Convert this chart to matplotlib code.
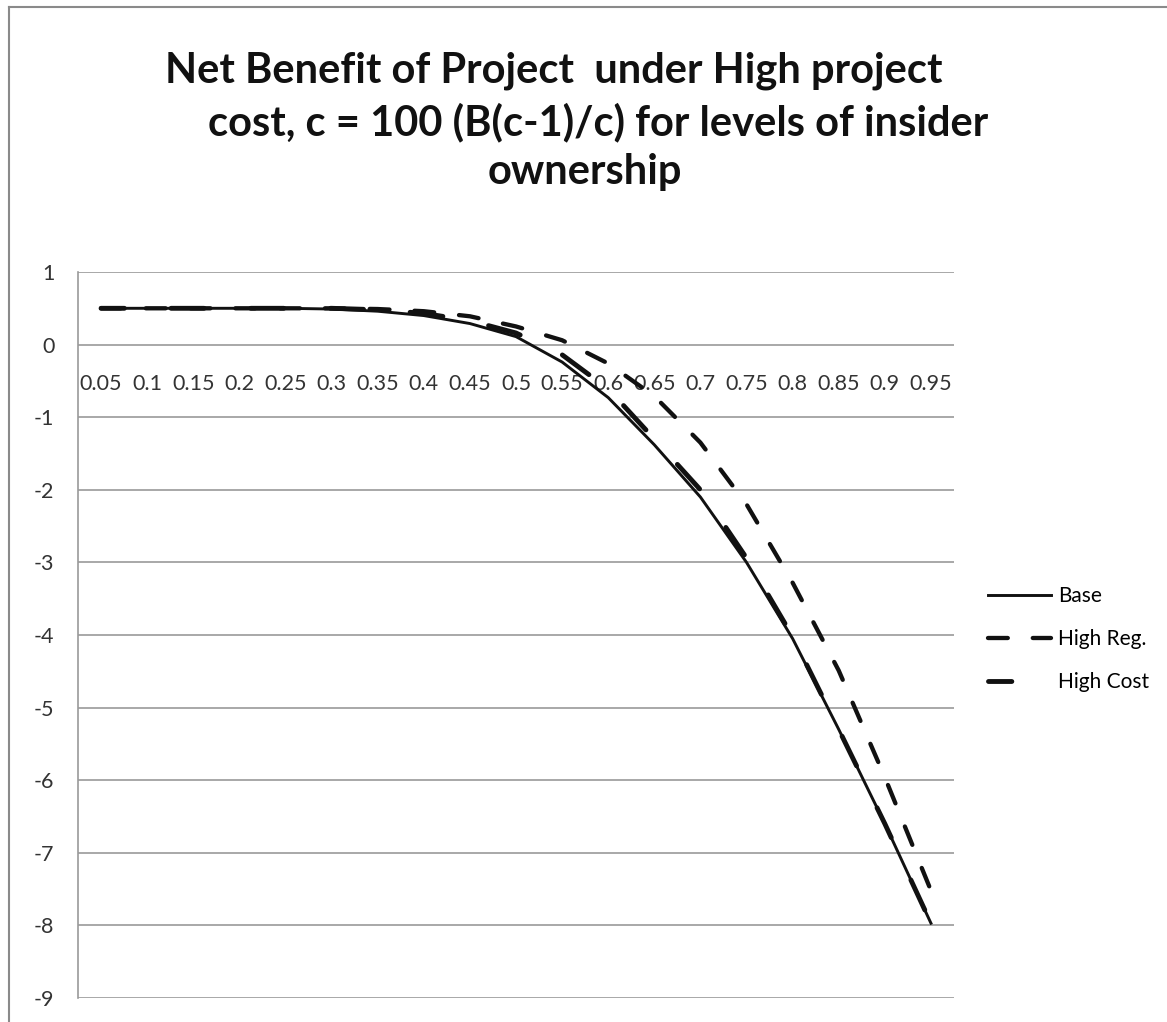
import matplotlib
matplotlib.use("Agg")
import matplotlib.pyplot as plt
from matplotlib.lines import Line2D

# Insider ownership levels (category axis)
ownership = ["0.05", "0.1", "0.15", "0.2", "0.25", "0.3", "0.35", "0.4", "0.45", "0.5",
             "0.55", "0.6", "0.65", "0.7", "0.75", "0.8", "0.85", "0.9", "0.95"]

# Net benefit for each scenario
base = [0.50, 0.50, 0.50, 0.50, 0.50, 0.49, 0.46, 0.40, 0.29, 0.11,
        -0.24, -0.73, -1.38, -2.10, -3.00, -4.05, -5.30, -6.60, -7.97]
high_reg = [0.50, 0.50, 0.50, 0.50, 0.50, 0.50, 0.49, 0.46, 0.39, 0.25,
            0.06, -0.26, -0.71, -1.35, -2.20, -3.28, -4.49, -5.96, -7.52]
high_cost = [0.50, 0.50, 0.50, 0.50, 0.50, 0.50, 0.48, 0.43, 0.33, 0.16,
             -0.14, -0.61, -1.30, -2.00, -2.94, -4.02, -5.30, -6.60, -7.97]

series_names = ["Base", "High Reg.", "High Cost"]
y_ticks = list(range(-9, 2))

plt.rcParams["font.family"] = ["Lato", "DejaVu Sans"]

W, H = 1167, 1022
fig = plt.figure(figsize=(W / 100, H / 100), dpi=100)
fig.patch.set_facecolor("white")

# chart frame (left and top edges)
fig.add_artist(Line2D([9 / W, 9 / W], [0, 1 - 7 / H], color="#8a8a8a", lw=1.5))
fig.add_artist(Line2D([9 / W, 1], [1 - 7 / H, 1 - 7 / H], color="#8a8a8a", lw=1.5))

ax = fig.add_axes([78 / W, 24 / H, (954 - 78) / W, (998 - 272) / H])
x = list(range(len(ownership)))

ax.plot(x, base, color="#111111", lw=2.1, label=series_names[0])
ax.plot(x, high_reg, color="#111111", lw=3.1, linestyle=(0, (4.6, 5.8)),
        dash_capstyle="round", label=series_names[1])
ax.plot(x, high_cost, color="#111111", lw=3.5, linestyle=(2, (6.8, 9.6)),
        dash_capstyle="round", label=series_names[2])

ax.set_xlim(-0.5, len(ownership) - 0.5)
ax.set_ylim(-9, 1)
ax.set_yticks(y_ticks)
ax.set_yticklabels([str(v) for v in y_ticks])
ax.set_xticks(x)
ax.set_xticklabels(ownership)

# category labels sit under the zero line
ax.spines["bottom"].set_position(("data", 0))
ax.spines["bottom"].set_visible(False)
ax.spines["top"].set_visible(False)
ax.spines["right"].set_visible(False)
ax.spines["left"].set_color("#9a9a9a")
ax.spines["left"].set_linewidth(1.2)

ax.tick_params(axis="x", length=0, pad=21, labelsize=15.5, labelcolor="#333333")
ax.tick_params(axis="y", length=0, pad=17, labelsize=15.5, labelcolor="#333333")

ax.set_axisbelow(True)
ax.yaxis.grid(True, color="#9a9a9a", lw=1.2)
ax.xaxis.grid(False)

# title, three lines as wrapped in the chart
title_lines = ["Net Benefit of Project  under High project",
               "cost, c = 100 (B(c-1)/c) for levels of insider",
               "ownership"]
fig.text(165 / W, 1 - 82 / H, title_lines[0], fontsize=30, fontweight="bold",
         ha="left", va="baseline", color="#111111")
fig.text(208 / W, 1 - 135 / H, title_lines[1], fontsize=30, fontweight="bold",
         ha="left", va="baseline", color="#111111")
fig.text(585 / W, 1 - 184 / H, title_lines[2], fontsize=30, fontweight="bold",
         ha="center", va="baseline", color="#111111")

fig.legend(loc="center left", bbox_to_anchor=(988 / W, 1 - 639 / H),
           frameon=False, fontsize=15, handlelength=3.0, handletextpad=0.35,
           labelspacing=1.1, borderpad=0, borderaxespad=0)

fig.savefig("out.png", dpi=100)
